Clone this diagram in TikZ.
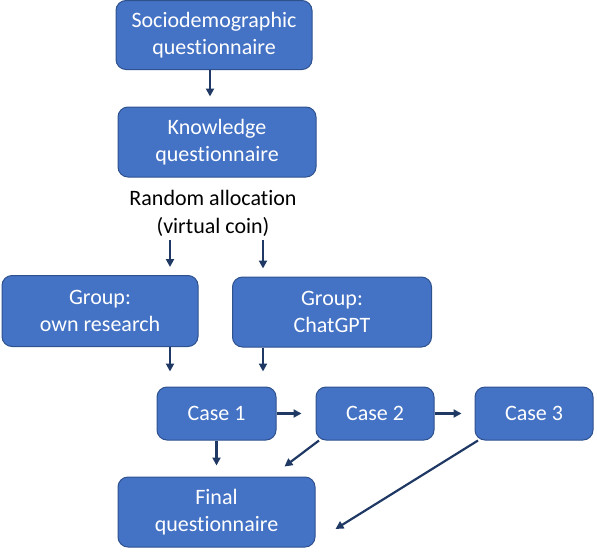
\documentclass[tikz,border=0pt]{standalone}
\usepackage{fontspec}
\setmainfont{Carlito}[RawFeature=-liga]
\usetikzlibrary{arrows.meta,positioning}
\definecolor{boxblue}{HTML}{4472C4}
\definecolor{boxline}{HTML}{2F528F}
\definecolor{arrnavy}{HTML}{1F3864}
\tikzset{
  stepbox/.style={draw=boxline, line width=1pt, fill=boxblue, rounded corners=10pt,
    text=white, align=center, inner sep=0pt,
    font=\fontsize{22}{27}\selectfont},
  arr/.style={draw=arrnavy, line width=2.2pt, -{Triangle[length=8pt,width=8pt]}}
}
\begin{document}
\begin{tikzpicture}[x=1pt,y=-1pt]
      \useasboundingbox (0,0) rectangle (597,552);
      % boxes
      \node[stepbox, minimum width=196pt, minimum height=69pt] (socio) at (214,35) {Sociodemographic\\questionnaire};
      \node[stepbox, minimum width=198pt, minimum height=70pt] (know) at (217,142) {Knowledge\\questionnaire};
      \node[align=center, inner sep=0pt, font=\fontsize{22}{28}\selectfont] (alloc) at (213,213) {Random allocation\\(virtual coin)};
      \node[stepbox, minimum width=196pt, minimum height=71pt] (own) at (100,311) {Group:\\own research};
      \node[stepbox, minimum width=199pt, minimum height=70pt] (gpt) at (332,312) {Group:\\ChatGPT};
      \node[stepbox, minimum width=119pt, minimum height=53pt] (case1) at (216.5,413.5) {Case 1};
      \node[stepbox, minimum width=118pt, minimum height=53pt] (case2) at (375,413.5) {Case 2};
      \node[stepbox, minimum width=118pt, minimum height=53pt] (case3) at (534,413.5) {Case 3};
      \node[stepbox, minimum width=197pt, minimum height=70pt] (final) at (216.5,512) {Final\\questionnaire};
      % arrows
      \draw[arr] ([xshift=-4]socio.south) -- ([xshift=-7,yshift=10]know.north);
      \draw[arr] ([xshift=-43,yshift=-4]alloc.south) -- ([xshift=70,yshift=8]own.north);
      \draw[arr] ([xshift=50,yshift=-4]alloc.south) -- ([xshift=-69,yshift=8]gpt.north);
      \draw[arr] ([xshift=70]own.south) -- ([xshift=-46.5,yshift=15]case1.north);
      \draw[arr] ([xshift=-69]gpt.south) -- ([xshift=46.5,yshift=15]case1.north);
      \draw[arr] (case1.east) -- ([xshift=-14]case2.west);
      \draw[arr] (case2.east) -- ([xshift=-13]case3.west);
      \draw[arr] (case1.south) -- ([yshift=11]final.north);
      \draw[arr] ([xshift=-56]case2.south) -- ([xshift=68,yshift=10]final.north);
      \draw[arr] ([xshift=-56]case3.south) -- ([xshift=20,yshift=-17]final.east);
\end{tikzpicture}
\end{document}
